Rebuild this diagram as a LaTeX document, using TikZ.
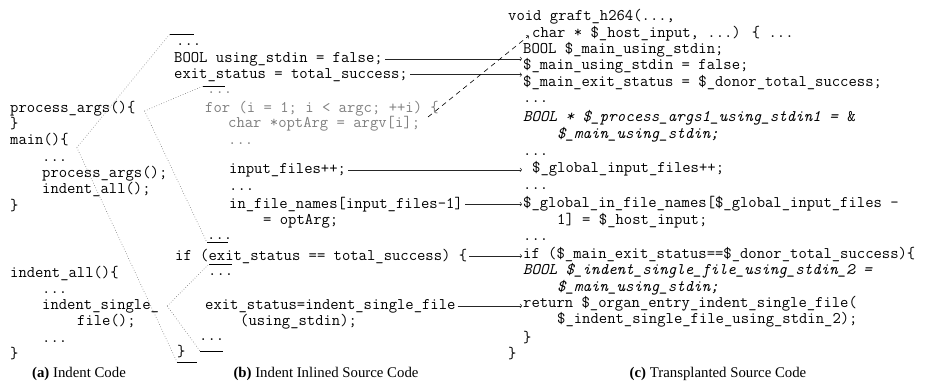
\documentclass[tikz,border=0pt]{standalone}
\usepackage{fontspec}
\newfontfamily\capfont{Liberation Serif}
\usetikzlibrary{calc}
\begin{document}
\begin{tikzpicture}[x=1pt,y=-1pt,
  code/.style={font=\ttfamily\fontsize{16.2}{18}\selectfont, inner sep=0pt, anchor=base west},
  codeg/.style={code, text=black!50},
  codei/.style={code, font=\ttfamily\itshape\fontsize{16.2}{18}\selectfont},
  bar/.style={line width=0.8pt},
  zoomln/.style={black!55, line width=0.6pt, dash pattern=on 0.6pt off 2pt},
  arr/.style={->, line width=0.6pt, black!85, shorten <=2pt, shorten >=1pt},
  dasharr/.style={->, line width=0.6pt, dash pattern=on 5pt off 4pt, shorten <=10pt, shorten >=4pt},
  captext/.style={font=\capfont\fontsize{14.8}{16}\selectfont, inner sep=0pt, anchor=base}]
\useasboundingbox (0,0) rectangle (928,384);

% (a) Indent code
\node[code] (a1) at (10,112) {process\_args()\{};
\node[code] (a2) at (10,128) {\}};
\node[code] (a3) at (10,144.5) {main()\{};
\node[code] (a4) at (42,161) {...};
\node[code] (a5) at (42,177) {process\_args();};
\node[code] (a6) at (42,193.5) {indent\_all();};
\node[code] (a7) at (10,210) {\}};
\node[code] (a8) at (10,277) {indent\_all()\{};
\node[code] (a9) at (42,293) {...};
\node[code] (a10) at (42,309) {indent\_single\_};
\node[code] (a11) at (77,325.5) {file();};
\node[code] (a12) at (42,342) {...};
\node[code] (a13) at (10,358) {\}};

% (b) Indent inlined source code
\node[code] (b0) at (176,45) {...};
\node[code] (b1) at (174,62) {BOOL using\_stdin = false;};
\node[code] (b2) at (174,78) {exit\_status = total\_success;};
\node[codeg] (b3) at (207,93) {...};
\node[codeg] (b4) at (205,112) {for (i = 1; i < argc; ++i) \{};
\node[codeg] (b5) at (228,127) {char *optArg = argv[i];};
\node[codeg] (b6) at (228,144) {...};
\node[code] (b7) at (229,173) {input\_files++;};
\node[code] (b8) at (229,190) {...};
\node[code] (b9) at (229,208) {in\_file\_names[input\_files-1]};
\node[code] (b10) at (263,224) {= optArg;};
\node[code] (b11) at (207,239.5) {...};
\node[code] (b12) at (175,260) {if (exit\_status == total\_success) \{};
\node[code] (b13) at (208,275) {...};
\node[code] (b14) at (205,309) {exit\_status=indent\_single\_file};
\node[code] (b15) at (240,325) {(using\_stdin);};
\node[code] (b16) at (199,340) {...};
\node[code] (b17) at (177,356) {\}};

% boundary bars of the inlined blocks
\draw[bar] (170,34) coordinate (bar1) -- (194,34);
\draw[bar] (203,86) coordinate (bar2) -- (225,86);
\draw[bar] (207,242.5) coordinate (bar3) -- (228,242.5);
\draw[bar] (209,264) coordinate (bar4) -- (232,264);
\draw[bar] (200,351) coordinate (bar5) -- (223,351);
\draw[bar] (177,362) coordinate (bar6) -- (197,362);

% zoom lines
\coordinate (pa) at ($(a1.base east)+(9,-1)$);
\coordinate (ma) at ($(a3.base east)+(8,3)$);
\coordinate (ia) at ($(a10.base east)+(8,-3)$);
\draw[zoomln] (pa) -- (bar2);
\draw[zoomln] (pa) -- (bar3);
\draw[zoomln] (ma) -- (bar1);
\draw[zoomln] (ma) -- (bar6);
\draw[zoomln] (ia) -- (bar4);
\draw[zoomln] (ia) -- (bar5);

% (c) Transplanted source code
\node[code] (c0) at (508,20) {void graft\_h264(...,};
\node[code] (c1) at (532,37) {char * \$\_host\_input, ...) \{ ...};
\node[code] (c2) at (523,53) {BOOL \$\_main\_using\_stdin;};
\node[code] (c3) at (523,69) {\$\_main\_using\_stdin = false;};
\node[code] (c4) at (523,86) {\$\_main\_exit\_status = \$\_donor\_total\_success;};
\node[code] (c5) at (523,102) {...};
\node[codei] (c6) at (523,121) {BOOL * \$\_process\_args1\_using\_stdin1 = \textup{\&}};
\node[codei] (c7) at (557,138) {\$\_main\_using\_stdin;};
\node[code] (c8) at (523,155) {...};
\node[code] (c9) at (532,172) {\$\_global\_input\_files++;};
\node[code] (c10) at (523,189) {...};
\node[code] (c11) at (523,207) {\$\_global\_in\_file\_names[\$\_global\_input\_files -};
\node[code] (c12) at (557,224) {1] = \$\_host\_input;};
\node[code] (c13) at (523,240) {...};
\node[code] (c14) at (523,258) {if (\$\_main\_exit\_status==\$\_donor\_total\_success)\{};
\node[codei] (c15) at (523,274) {BOOL \$\_indent\_single\_file\_using\_stdin\_2 =};
\node[codei] (c16) at (557,291) {\$\_main\_using\_stdin;};
\node[code] (c17) at (523,307) {return \$\_organ\_entry\_indent\_single\_file(};
\node[code] (c18) at (557,323) {\$\_indent\_single\_file\_using\_stdin\_2);};
\node[code] (c19) at (523,342) {\}};
\node[code] (c20) at (508,358) {\}};

% arrows
\draw[arr] (b1.east) -- (b1.east -| c2.west);
\draw[arr] (b2.east) -- (b2.east -| c4.west);
\draw[arr] (b7.east) -- (b7.east -| c2.west);
\draw[arr] (b9.east) -- (b9.east -| c11.west);
\draw[arr] (b12.east) -- (b12.east -| c14.west);
\draw[arr] (b14.east) -- (b14.east -| c17.west);
\draw[dasharr] (b5.east) -- (c1.west);

% captions
\node[captext] (capa) at (79,377) {\textbf{(a)} Indent Code};
\node[captext] (capb) at (326,377) {\textbf{(b)} Indent Inlined Source Code};
\node[captext] (capc) at (718,377) {\textbf{(c)} Transplanted Source Code};
\end{tikzpicture}
\end{document}
